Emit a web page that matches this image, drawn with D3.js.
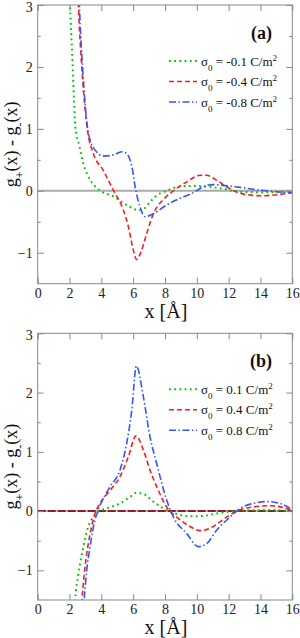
<!DOCTYPE html>
<html>
<head>
<meta charset="utf-8">
<script src="https://cdnjs.cloudflare.com/ajax/libs/d3/7.8.5/d3.min.js"></script>
<style>
  body { margin: 0; background: #fff; }
  svg { display: block; }
  svg text { font-family: "Liberation Serif", "DejaVu Serif", serif; }
</style>
</head>
<body>
<svg id="chart" width="300" height="638"></svg>
<script>
// tick values
const xTicks = [0, 2, 4, 6, 8, 10, 12, 14, 16];
const yTicks = [-1, 0, 1, 2, 3];
const yMinorTicks = [-0.5, 0.5, 1.5, 2.5];

// panel (a): negative surface charge
const aLabels = ['-0.1', '-0.4', '-0.8'];
const aGreen = [[1.98,3.3],[2.03,3.0],[2.2,2.0],[2.36,1.05],[2.62,0.72],[2.87,0.44],[3.29,0.18],[3.75,0.04],[4.0,-0.01],[4.75,-0.09],[5.6,-0.23],[6.3,-0.31],[6.6,-0.3],[7.06,-0.18],[7.5,-0.07],[8.1,0.0],[8.95,0.07],[9.8,0.08],[10.6,0.065],[11.46,0.04],[12.3,0.0],[13.1,-0.02],[14.4,-0.025],[16,-0.01]];
const aRed = [[2.52,3.3],[2.56,3.0],[2.77,2.0],[3.12,1.0],[3.5,0.6],[4.12,0.33],[4.75,0.01],[5.38,-0.31],[5.7,-0.58],[6.0,-0.95],[6.22,-1.11],[6.5,-0.98],[6.85,-0.69],[7.27,-0.37],[7.9,-0.14],[8.53,0],[9.37,0.145],[10.2,0.25],[10.6,0.25],[11.25,0.17],[11.88,0.065],[12.72,-0.04],[13.97,-0.08],[15.0,-0.065],[16,-0.03]];
const aBlue = [[2.58,3.3],[2.62,3.0],[2.82,2.0],[3.14,1.0],[3.29,0.82],[3.6,0.66],[4.13,0.56],[4.76,0.58],[5.28,0.63],[5.6,0.6],[5.8,0.5],[5.95,0.35],[6.12,0.07],[6.43,-0.26],[6.75,-0.42],[7.27,-0.37],[8.1,-0.23],[8.95,-0.12],[9.78,-0.03],[10.4,0.065],[11.04,0.1],[11.88,0.08],[12.72,0.055],[13.97,0.01],[15.0,-0.015],[16,-0.03]];

// panel (b): positive surface charge
const bLabels = ['0.1', '0.4', '0.8'];
const bGreen = [[2.3,-1.7],[2.35,-1.5],[2.56,-1.06],[2.87,-0.6],[3.18,-0.26],[3.5,-0.1],[3.81,-0.01],[4.34,0.045],[5.17,0.13],[5.8,0.24],[6.22,0.31],[6.64,0.29],[7.27,0.16],[7.9,0.045],[8.53,-0.03],[9.57,-0.085],[10.2,-0.085],[11.04,-0.05],[12.3,0],[13.55,0.015],[14.8,0.017],[16,0.0]];
const bRed = [[2.72,-1.7],[2.78,-1.5],[2.95,-1.0],[3.18,-0.55],[3.39,-0.26],[3.6,-0.04],[3.92,0.13],[4.54,0.35],[5.17,0.58],[5.7,0.92],[6.18,1.27],[6.64,1.03],[7.06,0.69],[7.58,0.35],[8.1,0.07],[8.74,-0.1],[9.57,-0.26],[10.2,-0.33],[10.83,-0.29],[11.88,-0.1],[12.5,0],[13.55,0.07],[14.6,0.09],[15.44,0.06],[16,0.0]];
const bBlue = [[2.87,-1.7],[2.92,-1.5],[3.08,-1.0],[3.29,-0.6],[3.6,-0.15],[3.81,0.02],[4.54,0.41],[5.17,0.69],[5.59,1.14],[5.91,1.7],[6.2,2.45],[6.64,1.93],[7.06,1.25],[7.48,0.8],[8.1,0.19],[8.53,-0.1],[9.37,-0.38],[10.1,-0.6],[10.62,-0.55],[11.25,-0.32],[12.09,-0.1],[12.72,0.045],[13.55,0.13],[14.4,0.16],[15.23,0.13],[16,0.02]];

const styles = [
  { color: '#00c800', dash: '1.8,3.4', width: 2 },
  { color: '#ff1a1a', dash: '5,3', width: 1.6 },
  { color: '#3355ff', dash: '7,2.5,1.5,2.5', width: 1.6 }
];

const svg = d3.select('#chart');
const axisColor = '#888';
const serif = '"Liberation Serif", "DejaVu Serif", serif';

function drawPanel(id, top, bottom, series, labels, tag, zeroStyle) {
  const x = d3.scaleLinear().domain([0, 16]).range([37.7, 292.3]);
  const y = d3.scaleLinear().domain([-1.5, 3]).range([bottom, top]);
  const g = svg.append('g');

  g.append('clipPath').attr('id', 'clip-' + id)
    .append('rect')
    .attr('x', x(0)).attr('y', y(3))
    .attr('width', x(16) - x(0)).attr('height', y(-1.5) - y(3));

  // zero line
  if (zeroStyle === 'grey') {
    g.append('line')
      .attr('x1', x(0)).attr('x2', x(16)).attr('y1', y(0)).attr('y2', y(0))
      .attr('stroke', '#aaa').attr('stroke-width', 2);
  } else {
    g.append('line')
      .attr('x1', x(0)).attr('x2', x(16)).attr('y1', y(0)).attr('y2', y(0))
      .attr('stroke', '#bbb').attr('stroke-width', 2);
    g.append('line')
      .attr('x1', x(0)).attr('x2', x(16)).attr('y1', y(0)).attr('y2', y(0))
      .attr('stroke', '#8b1c2c').attr('stroke-width', 2)
      .attr('stroke-dasharray', '8,2');
  }

  const line = d3.line()
    .x(d => x(d[0]))
    .y(d => y(d[1]))
    .curve(d3.curveMonotoneX);

  const plot = g.append('g').attr('clip-path', `url(#clip-${id})`);
  series.forEach((s, i) => {
    plot.append('path')
      .datum(s)
      .attr('d', line)
      .attr('fill', 'none')
      .attr('stroke', styles[i].color)
      .attr('stroke-width', styles[i].width)
      .attr('stroke-dasharray', styles[i].dash);
  });

  // axes, ticks pointing inward
  const styleAxis = sel => {
    sel.attr('font-family', serif);
    sel.select('.domain').remove();
    sel.selectAll('.tick line').attr('stroke', axisColor);
    sel.selectAll('.tick text').attr('fill', '#222').style('font-size', '14px');
  };
  g.append('g').attr('transform', `translate(0,${y(-1.5)})`)
    .call(d3.axisBottom(x).tickValues(xTicks).tickSize(-6).tickPadding(4).tickFormat(d3.format('d')))
    .call(styleAxis);
  g.append('g').attr('transform', `translate(0,${y(3)})`)
    .call(d3.axisTop(x).tickValues(xTicks).tickSize(-6).tickFormat(''))
    .call(styleAxis);
  const left = g.append('g').attr('transform', `translate(${x(0)},0)`)
    .call(d3.axisLeft(y).tickValues(yTicks).tickSize(-6).tickPadding(5).tickFormat(d3.format('d')))
    .call(styleAxis);
  // keep the top label inside the picture
  left.selectAll('.tick text').filter(d => d === 3).attr('dy', '0.45em');
  g.append('g').attr('transform', `translate(${x(0)},0)`)
    .call(d3.axisLeft(y).tickValues(yMinorTicks).tickSize(-3).tickFormat(''))
    .call(styleAxis);
  g.append('g').attr('transform', `translate(${x(16)},0)`)
    .call(d3.axisRight(y).tickValues(yTicks).tickSize(-6).tickFormat(''))
    .call(styleAxis);
  g.append('g').attr('transform', `translate(${x(16)},0)`)
    .call(d3.axisRight(y).tickValues(yMinorTicks).tickSize(-3).tickFormat(''))
    .call(styleAxis);

  g.append('rect')
    .attr('x', x(0)).attr('y', y(3))
    .attr('width', x(16) - x(0)).attr('height', y(-1.5) - y(3))
    .attr('fill', 'none').attr('stroke', axisColor).attr('stroke-width', 1);

  // axis titles
  g.append('text')
    .attr('x', 166).attr('y', bottom + 34)
    .attr('text-anchor', 'middle')
    .style('font-size', '20px').attr('fill', '#111')
    .text('x [Å]');

  const yt = g.append('text')
    .attr('transform', `translate(17,${(top + bottom) / 2}) rotate(-90)`)
    .attr('text-anchor', 'middle')
    .style('font-size', '18px').attr('fill', '#111');
  yt.append('tspan').text('g');
  yt.append('tspan').attr('baseline-shift', 'sub').style('font-size', '12px').text('+');
  yt.append('tspan').text('(x) - g');
  yt.append('tspan').attr('baseline-shift', 'sub').style('font-size', '12px').text('-');
  yt.append('tspan').text('(x)');

  // panel tag
  g.append('text')
    .attr('x', 272).attr('y', top + 34)
    .attr('text-anchor', 'end')
    .style('font-size', '18px').style('font-weight', 'bold').attr('fill', '#111')
    .text(tag);

  // legend
  labels.forEach((lab, i) => {
    const ly = top + 56 + i * 20.5;
    g.append('line')
      .attr('x1', 169).attr('x2', 197).attr('y1', ly).attr('y2', ly)
      .attr('stroke', styles[i].color)
      .attr('stroke-width', styles[i].width)
      .attr('stroke-dasharray', styles[i].dash);
    const t = g.append('text')
      .attr('x', 201).attr('y', ly + 4.5)
      .style('font-size', '13px').attr('fill', '#111');
    t.append('tspan').text('σ');
    t.append('tspan').attr('baseline-shift', 'sub').style('font-size', '9px').text('0');
    t.append('tspan').text(` = ${lab} C/m`);
    t.append('tspan').attr('baseline-shift', 'super').style('font-size', '9px').text('2');
  });
}

drawPanel('a', 5, 283.7, [aGreen, aRed, aBlue], aLabels, '(a)', 'grey');
drawPanel('b', 333.3, 600, [bGreen, bRed, bBlue], bLabels, '(b)', 'maroon');
</script>
</body>
</html>
